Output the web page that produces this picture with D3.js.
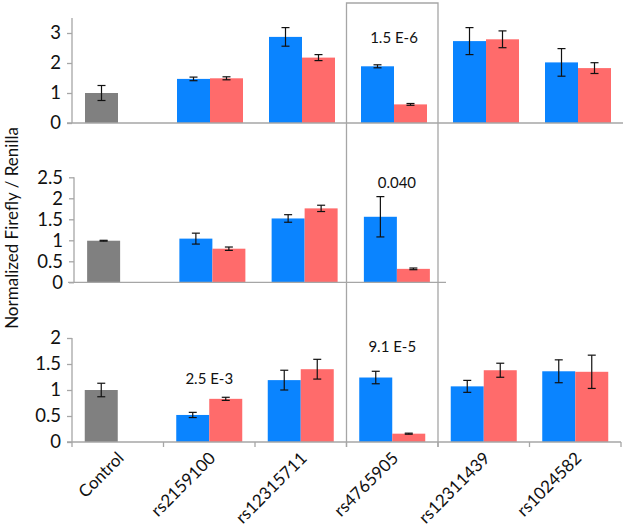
<!DOCTYPE html>
<html><head><meta charset="utf-8">
<script src="https://cdn.jsdelivr.net/npm/d3@7"></script>
<style>body{margin:0;background:#fff}svg{display:block}text{font-family:Lato,"Liberation Sans",sans-serif}</style>
</head><body><svg id="c" width="627" height="529"></svg>
<script>
const categories = ["Control","rs2159100","rs12315711","rs4765905","rs12311439","rs1024582"];
const snps = categories.slice(1);
// control values (one per panel)
const controlValues = [1.0, 0.99, 1.0];
const controlErrors = [0.25, 0.01, 0.13];
// panel A (top)
const topBlue = [1.47, 2.87, 1.89, 2.73, 2.02];
const topBlueErr = [0.06, 0.31, 0.05, 0.45, 0.46];
const topRed = [1.49, 2.18, 0.62, 2.79, 1.83];
const topRedErr = [0.05, 0.10, 0.03, 0.28, 0.18];
// panel B (middle)
const midBlue = [1.04, 1.52, 1.56];
const midBlueErr = [0.13, 0.09, 0.48];
const midRed = [0.80, 1.76, 0.32];
const midRedErr = [0.04, 0.075, 0.02];
// panel C (bottom)
const botBlue = [0.52, 1.19, 1.24, 1.07, 1.36];
const botBlueErr = [0.05, 0.19, 0.12, 0.115, 0.22];
const botRed = [0.83, 1.40, 0.16, 1.38, 1.35];
const botRedErr = [0.03, 0.19, 0.01, 0.135, 0.32];
// tick labels
const topTicks = [0, 1, 2, 3];
const midTicks = [0, 0.5, 1, 1.5, 2, 2.5];
const botTicks = [0, 0.5, 1, 1.5, 2];
// p-value annotations: [panel, category, label, y-value]
const annotations = [
  [0, "rs4765905", "1.5 E-6", 2.83],
  [1, "rs4765905", "0.040", 2.36],
  [2, "rs4765905", "9.1 E-5", 1.83],
  [2, "rs2159100", "2.5 E-3", 1.21]
];

const BLUE = "#0a84ff", RED = "#ff6b6b", GRAY = "#808080", AXIS = "#a6a6a6";
const svg = d3.select("#c");
const barW = 33;

const panels = [
  {cats: categories, x0: 72, x1: 624, y0: 123, ymax: 3.5, ytop: 18, ticks: topTicks,
   blue: topBlue, blueErr: topBlueErr, red: topRed, redErr: topRedErr, base0: 67, base1: 623, xticks: false},
  {cats: categories.slice(0, 4), x0: 74, x1: 443, y0: 282.3, ymax: 2.5, ytop: 177.3, ticks: midTicks,
   blue: midBlue, blueErr: midBlueErr, red: midRed, redErr: midRedErr, base0: 68, base1: 446, xticks: false},
  {cats: categories, x0: 72, x1: 621, y0: 442, ymax: 2, ytop: 338, ticks: botTicks,
   blue: botBlue, blueErr: botBlueErr, red: botRed, redErr: botRedErr, base0: 67, base1: 621, xticks: true}
];

panels.forEach((p, pi) => {
  const x = d3.scaleBand().domain(p.cats).range([p.x0, p.x1]);
  const y = d3.scaleLinear().domain([0, p.ymax]).range([p.y0, p.ytop]);
  const g = svg.append("g");
  const ya = d3.axisLeft(y).tickValues(p.ticks).tickSize(5).tickPadding(6).tickFormat(d => String(d));
  const yg = g.append("g").attr("transform", `translate(${p.x0},0)`).call(ya);
  yg.select(".domain").attr("d", `M0,${p.ytop}V${p.y0}`).attr("stroke", AXIS).attr("stroke-width", 1.3);
  yg.selectAll(".tick line").attr("stroke", AXIS).attr("stroke-width", 1.3);
  yg.selectAll(".tick text").attr("font-size", 18.5).attr("fill", "#111").attr("font-family", "Lato, sans-serif");

  const items = [];
  items.push({cat: "Control", pos: -1, v: controlValues[pi], e: controlErrors[pi], c: GRAY});
  p.blue.forEach((v, i) => items.push({cat: snps[i], pos: -1, v, e: p.blueErr[i], c: BLUE}));
  p.red.forEach((v, i) => items.push({cat: snps[i], pos: 0, v, e: p.redErr[i], c: RED}));
  const cx = d => x(d.cat) + x.bandwidth() / 2 + d.pos * barW;
  g.selectAll("rect.bar").data(items).join("rect").attr("class", "bar")
    .attr("x", cx).attr("width", barW)
    .attr("y", d => y(d.v)).attr("height", d => y(0) - y(d.v)).attr("fill", d => d.c);
  const eb = g.selectAll("g.err").data(items).join("g").attr("class", "err")
    .attr("stroke", "#111").attr("stroke-width", 1.2);
  eb.append("line").attr("x1", d => cx(d) + barW / 2).attr("x2", d => cx(d) + barW / 2)
    .attr("y1", d => y(d.v + d.e)).attr("y2", d => y(d.v - d.e));
  [1, -1].forEach(s => eb.append("line").attr("x1", d => cx(d) + barW / 2 - 4).attr("x2", d => cx(d) + barW / 2 + 4)
    .attr("y1", d => y(d.v + s * d.e)).attr("y2", d => y(d.v + s * d.e)));
  g.append("line").attr("x1", p.base0).attr("x2", p.base1).attr("y1", p.y0).attr("y2", p.y0)
    .attr("stroke", AXIS).attr("stroke-width", 1.3);
  if (p.xticks) {
    const xb = d3.scaleLinear().domain([0, p.cats.length]).range([p.x0, p.x1]);
    g.selectAll("line.xt").data(d3.range(p.cats.length + 1)).join("line").attr("class", "xt")
      .attr("x1", d => xb(d)).attr("x2", d => xb(d)).attr("y1", p.y0).attr("y2", p.y0 + 5)
      .attr("stroke", AXIS).attr("stroke-width", 1.3);
    g.selectAll("text.xl").data(p.cats).join("text").attr("class", "xl")
      .attr("transform", d => `translate(${x(d) + x.bandwidth() / 2 + 3},${p.y0 + 13}) rotate(-45)`)
      .attr("text-anchor", "end").attr("dy", "0.35em").attr("font-size", 17).attr("fill", "#111").text(d => d);
  }
  annotations.filter(a => a[0] === pi).forEach(a => {
    g.append("text").attr("x", x(a[1]) + x.bandwidth() / 2).attr("y", y(a[3])).attr("dy", "0.35em")
      .attr("text-anchor", "middle").attr("font-size", 15).attr("fill", "#111").text(a[2]);
  });
});

// highlight box around rs4765905 (open at the bottom)
const xTop = d3.scaleBand().domain(categories).range([72, 621]);
const bx0 = xTop("rs4765905"), bx1 = bx0 + xTop.bandwidth();
svg.append("path").attr("d", `M${bx0},447V3H${bx1}V447`)
  .attr("fill", "none").attr("stroke", AXIS).attr("stroke-width", 1.3);

svg.append("text").attr("transform", "translate(12,228) rotate(-90)").attr("text-anchor", "middle")
  .attr("dy", "0.35em").attr("font-size", 17).attr("fill", "#111").text("Normalized Firefly / Renilla");
</script></body></html>
